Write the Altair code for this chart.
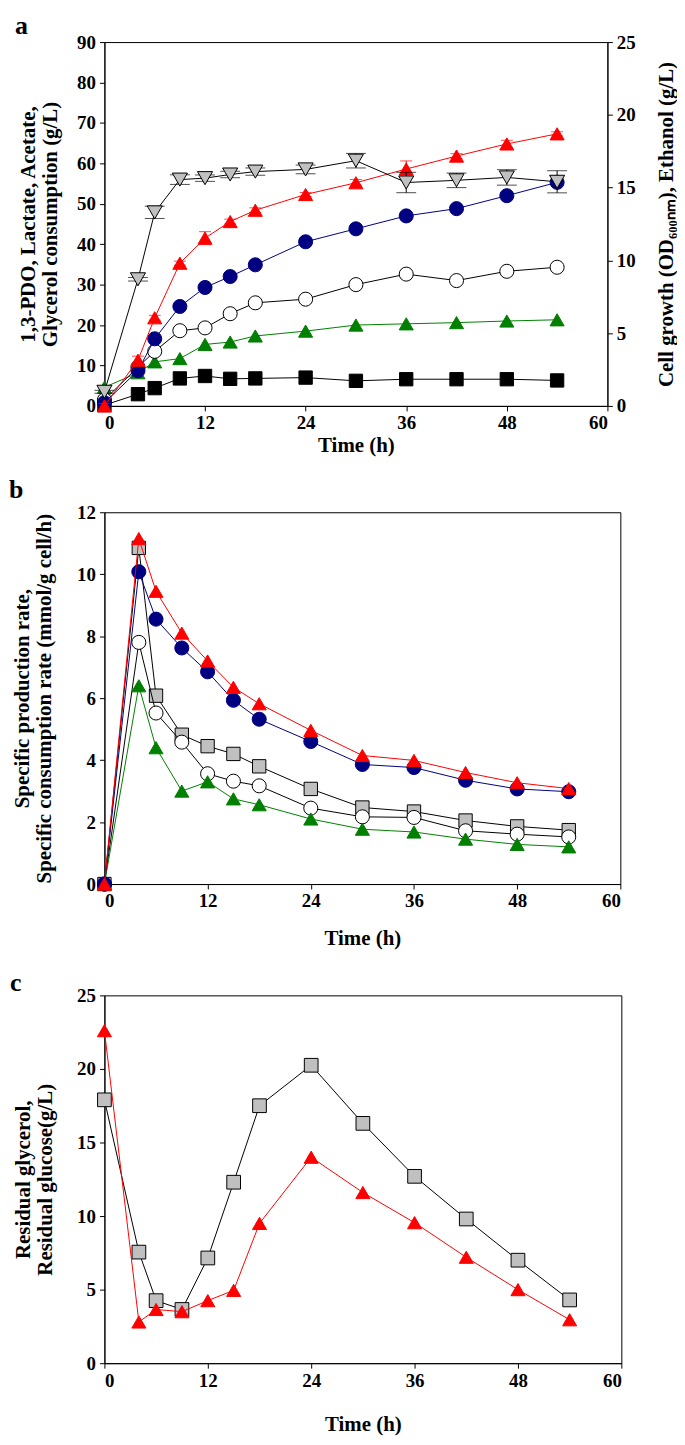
import altair as alt
import pandas as pd

T = [0, 4, 6, 9, 12, 15, 18, 24, 30, 36, 42, 48, 54]

# ---------- panel a (left axis, g/L) ----------
a_glycerol = [0.0, 11.3, 21.8, 35.3, 41.5, 45.6, 48.4, 52.3, 55.2, 58.6, 61.8, 64.8, 67.3]
a_glycerol_err = [0.6, 1.0, 0.6, 0.5, 1.6, 0.6, 0.6, 0.5, 0.8, 2.0, 0.6, 0.9, 0.5]
a_pdo = [0.8, 8.7, 16.6, 24.6, 29.3, 32.0, 34.9, 40.6, 43.8, 47.0, 48.8, 52.0, 55.3]
a_pdo_err = [0.8, 0.8, 0.9, 0.8, 0.9, 0.8, 0.8, 0.9, 0.8, 0.8, 0.8, 0.8, 0.9]
a_open = [1.5, 9.6, 13.5, 18.6, 19.3, 22.8, 25.5, 26.4, 30.0, 32.6, 31.0, 33.3, 34.3]
a_green = [4.6, 8.2, 10.9, 11.7, 15.2, 15.8, 17.3, 18.5, 20.0, 20.3, 20.6, 21.0, 21.3]
a_black = [0.2, 2.9, 4.4, 6.8, 7.4, 6.7, 6.8, 7.0, 6.2, 6.6, 6.6, 6.6, 6.3]
# cell growth on the right axis (OD600nm)
a_od = [0.97, 8.7, 13.3, 15.55, 15.65, 15.9, 16.1, 16.25, 16.85, 15.35, 15.5, 15.7, 15.4]
a_od_err = [0.1, 0.12, 0.42, 0.33, 0.22, 0.22, 0.25, 0.3, 0.5, 0.7, 0.5, 0.53, 0.76]

# ---------- panel b ----------
b_red = [0.0, 11.15, 9.45, 8.1, 7.2, 6.35, 5.82, 4.96, 4.15, 3.99, 3.6, 3.27, 3.08]
b_blue = [0.0, 10.08, 8.55, 7.62, 6.85, 5.93, 5.32, 4.6, 3.86, 3.76, 3.35, 3.07, 2.98]
b_gray = [0.0, 10.85, 6.08, 4.82, 4.45, 4.2, 3.8, 3.07, 2.47, 2.34, 2.05, 1.86, 1.74]
b_open = [0.0, 7.8, 5.52, 4.58, 3.56, 3.32, 3.17, 2.45, 2.17, 2.15, 1.72, 1.61, 1.52]
b_green = [0.0, 6.4, 4.4, 3.0, 3.3, 2.75, 2.56, 2.1, 1.77, 1.68, 1.45, 1.28, 1.2]

# ---------- panel c ----------
c_glycerol = [17.9, 7.55, 4.25, 3.65, 7.15, 12.3, 17.5, 20.25, 16.3, 12.7, 9.8, 7.0, 4.3]
c_glucose = [22.6, 2.8, 3.65, 3.5, 4.25, 4.95, 9.5, 14.0, 11.6, 9.55, 7.2, 5.0, 2.95]

FONT = "Liberation Serif"
XTICKS = [0, 12, 24, 36, 48, 60]


def frame(vals, err=None):
    d = pd.DataFrame({"t": T, "v": vals})
    if err is not None:
        d["lo"] = [v - e for v, e in zip(vals, err)]
        d["hi"] = [v + e for v, e in zip(vals, err)]
    return d


def make_x(title_pad):
    return alt.X("t:Q", scale=alt.Scale(domain=[0, 60], nice=False, zero=False),
                 axis=alt.Axis(values=XTICKS, title="Time (h)", titlePadding=title_pad,
                               labelPadding=3))


def series(df, xenc, yenc, shape, fill, stroke, line, size=190, err=None,
           cap=12, errcolor=None):
    layers = []
    base = alt.Chart(df)
    if err is not None:
        ec = errcolor or line
        layers.append(base.mark_rule(color=ec, strokeWidth=1).encode(
            x=xenc, y=alt.Y("lo:Q", scale=yenc["scale"], axis=yenc["axis"]), y2="hi:Q"))
        for f in ["lo", "hi"]:
            layers.append(base.mark_tick(color=ec, thickness=1, size=cap,
                                         orient="horizontal").encode(
                x=xenc, y=alt.Y(f + ":Q", scale=yenc["scale"], axis=yenc["axis"])))
    layers.append(base.mark_line(color=line, strokeWidth=1).encode(
        x=xenc, y=alt.Y("v:Q", scale=yenc["scale"], axis=yenc["axis"])))
    layers.append(base.mark_point(shape=shape, filled=True, fill=fill, stroke=stroke,
                                  strokeWidth=1, size=size, opacity=1).encode(
        x=xenc, y=alt.Y("v:Q", scale=yenc["scale"], axis=yenc["axis"])))
    return layers


def yspec(domain, values, title, orient="left", pad=8, angle=None):
    ax = dict(values=values, title=title, orient=orient, titlePadding=pad,
              labelPadding=4, titleLineHeight=22)
    if angle is not None:
        ax["titleAngle"] = angle
    return {"scale": alt.Scale(domain=domain, nice=False, zero=False),
            "axis": alt.Axis(**ax)}


NAVY = "#000080"
RED = "#FF0000"
GREEN = "#008000"
GRAY = "#C0C0C0"

TITLE_KW = dict(anchor="start", frame="bounds", fontSize=26, font=FONT,
                fontWeight="bold", dx=-3)

# ----- panel a -----
xa = make_x(2)
ya = yspec([0, 90], list(range(0, 91, 10)),
           ["1,3-PDO, Lactate, Acetate,", "Glycerol consumption (g/L)"], pad=16)
yr = yspec([0, 25], [0, 5, 10, 15, 20, 25],
           "Cell growth (OD\u2086\u2080\u2080\u2099\u2098), Ethanol (g/L)",
           orient="right", pad=41, angle=-90)

left_layers = []
left_layers += series(frame(a_black), xa, ya, "square", "black", "black", "black", size=180)
left_layers += series(frame(a_green), xa, ya, "triangle-up", GREEN, GREEN, GREEN, size=200)
left_layers += series(frame(a_open), xa, ya, "circle", "white", "black", "black", size=200)
left_layers += series(frame(a_pdo, a_pdo_err), xa, ya, "circle", NAVY, NAVY, NAVY,
                      size=200, err=True, cap=12)
left_layers += series(frame(a_glycerol, a_glycerol_err), xa, ya, "triangle-up", RED, RED,
                      RED, size=200, err=True, cap=12)
right_layers = series(frame(a_od, a_od_err), xa, yr, "triangle-down", GRAY, "black",
                      "black", size=230, err=True, cap=20, errcolor="black")

panel_a = alt.layer(alt.layer(*left_layers), alt.layer(*right_layers)).resolve_scale(
    y="independent").properties(
    width=506, height=366, title=alt.TitleParams("a", offset=-6, **TITLE_KW))

# ----- panel b -----
xb = make_x(17)
yb = yspec([0, 12], [0, 2, 4, 6, 8, 10, 12],
           ["Specific production rate,", "Specific consumption rate (mmol/g cell/h)"],
           pad=22)
b_layers = []
b_layers += series(frame(b_gray), xb, yb, "square", GRAY, "black", "black", size=180)
b_layers += series(frame(b_open), xb, yb, "circle", "white", "black", "black", size=200)
b_layers += series(frame(b_green), xb, yb, "triangle-up", GREEN, GREEN, GREEN, size=200)
b_layers += series(frame(b_blue), xb, yb, "circle", NAVY, NAVY, NAVY, size=200)
b_layers += series(frame(b_red), xb, yb, "triangle-up", RED, RED, RED, size=200)
panel_b = alt.layer(*b_layers).properties(
    width=519, height=374, title=alt.TitleParams("b", offset=0, **TITLE_KW))

# ----- panel c -----
xc = make_x(24)
yc = yspec([0, 25], [0, 5, 10, 15, 20, 25],
           ["Residual glycerol,", "Residual glucose(g/L)"], pad=21)
c_layers = []
c_layers += series(frame(c_glycerol), xc, yc, "square", GRAY, "black", "black", size=190)
c_layers += series(frame(c_glucose), xc, yc, "triangle-up", RED, RED, RED, size=200)
panel_c = alt.layer(*c_layers).properties(
    width=520, height=370, title=alt.TitleParams("c", offset=-10, **TITLE_KW))

chart = alt.concat(panel_a, panel_b, panel_c, columns=1, align="none",
                   spacing=20).properties(
    background="white", padding=0).configure_view(
    stroke="black", strokeWidth=1).configure_axis(
    labelFont=FONT, labelFontSize=19, labelFontWeight="bold", labelColor="black",
    titleFont=FONT, titleFontSize=21, titleFontWeight="bold", titleColor="black",
    domainColor="black", tickColor="black", tickSize=5, grid=False, domainWidth=1,
    tickWidth=1)

chart.save("out.html", embed_options={"renderer": "svg", "actions": False})
